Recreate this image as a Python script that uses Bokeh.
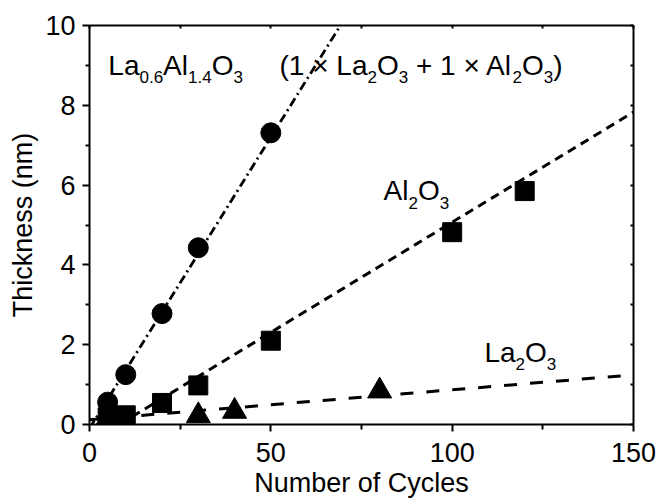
import numpy as np
from bokeh.plotting import figure
from bokeh.models import LinearAxis, Label, FixedTicker, CustomJSTickFormatter, Range1d
from bokeh.embed import file_html
from bokeh.resources import INLINE

# ---------------- data ----------------
lao_cycles = [5, 10, 20, 30, 50]
lao_thickness = [0.56, 1.25, 2.78, 4.43, 7.31]

al_cycles = [5, 10, 20, 30, 50, 100, 120]
al_thickness = [0.18, 0.23, 0.54, 0.98, 2.10, 4.82, 5.85]

la_cycles = [5, 30, 40, 80]
la_thickness = [0.15, 0.22, 0.33, 0.84]

# guide lines (end points)
lao_fit_x = [0, 75]
lao_fit_y = [-0.10, 10.85]
al_fit_x = [8.2, 150]
al_fit_y = [0.0, 7.83]
la_fit_x = [0, 150]
la_fit_y = [0.12, 1.245]

x_major_ticks = [0, 50, 100, 150]
x_minor_ticks = [25, 75, 125]
y_major_ticks = [0, 2, 4, 6, 8, 10]
y_minor_ticks = [1, 3, 5, 7, 9]

FONT = "Liberation Sans"
AXIS_SIZE = 27
MAIN = 28
SUB = 17
SUB_DROP = 12

p = figure(width=659, height=501, x_range=Range1d(0, 150), y_range=Range1d(0, 10),
           output_backend="svg", toolbar_location=None,
           min_border_left=89, min_border_right=26, min_border_top=25, min_border_bottom=77,
           x_axis_label="Number of Cycles", y_axis_label="Thickness (nm)")
p.xgrid.visible = False
p.ygrid.visible = False
p.outline_line_color = None
p.background_fill_color = "white"
p.border_fill_color = "white"

xt = FixedTicker(ticks=x_major_ticks, minor_ticks=x_minor_ticks)
yt = FixedTicker(ticks=y_major_ticks, minor_ticks=y_minor_ticks)

for ax, t in ((p.xaxis[0], xt), (p.yaxis[0], yt)):
    ax.ticker = t
    ax.axis_line_width = 2
    ax.axis_line_color = "black"
    ax.major_tick_line_width = 2
    ax.minor_tick_line_width = 2
    ax.major_tick_in = 0
    ax.major_tick_out = 7
    ax.minor_tick_in = 0
    ax.major_label_text_font = FONT
    ax.major_label_text_font_size = f"{AXIS_SIZE}px"
    ax.major_label_text_color = "black"
    ax.axis_label_text_font = FONT
    ax.axis_label_text_font_size = f"{AXIS_SIZE}px"
    ax.axis_label_text_font_style = "normal"
    ax.axis_label_text_color = "black"

p.xaxis[0].minor_tick_out = 5
p.xaxis[0].major_label_standoff = 11
p.xaxis[0].axis_label_standoff = 3
p.yaxis[0].minor_tick_out = 4
p.yaxis[0].major_label_standoff = 7
p.yaxis[0].axis_label_standoff = 4

for side, t in (("above", xt), ("right", yt)):
    ax = LinearAxis(ticker=t, formatter=CustomJSTickFormatter(code="return ''"),
                    major_tick_in=3, major_tick_out=0, minor_tick_in=3, minor_tick_out=0,
                    axis_line_width=2, major_tick_line_width=2, minor_tick_line_width=2,
                    major_label_standoff=0, major_label_text_font_size="1px")
    p.add_layout(ax, side)

# lines
p.line(lao_fit_x, lao_fit_y, line_color="black", line_width=2.8, line_dash="9 4 2 4")
p.line(al_fit_x, al_fit_y, line_color="black", line_width=3, line_dash="9 6")
p.line(la_fit_x, la_fit_y, line_color="black", line_width=3, line_dash="13 13")

# markers
p.scatter(la_cycles, la_thickness, marker="triangle", size=24, color="black")
p.scatter(al_cycles, al_thickness, marker="square", size=19, color="black")
p.scatter(lao_cycles, lao_thickness, marker="circle", size=20, color="black")

# text with subscripts
NB = "\u00a0"
ARIAL = {'L': 0.556, 'a': 0.556, 'A': 0.667, 'l': 0.222, 'O': 0.778, '.': 0.278,
         '(': 0.333, ')': 0.333, ' ': 0.278, NB: 0.278, '×': 0.584, '+': 0.584}
for d in "0123456789":
    ARIAL[d] = 0.556


def chem(x, y, parts):
    off = 0.0
    for txt, sub in parts:
        size = SUB if sub else MAIN
        p.add_layout(Label(x=x, y=y, x_offset=off, y_offset=-SUB_DROP if sub else 0,
                           text=txt, text_font=FONT, text_font_size=f"{size}px",
                           text_color="black", text_baseline="alphabetic", text_align="left"))
        off += sum(ARIAL[c] for c in txt) * size


chem(5.2, 9.0, [("La", 0), ("0.6", 1), ("Al", 0), ("1.4", 1), ("O", 0), ("3", 1)])
chem(52.4, 9.0, [("(1 × La", 0), ("2", 1), ("O", 0), ("3", 1), (NB + "+ 1 × Al", 0),
                 ("2", 1), ("O", 0), ("3", 1), (")", 0)])
chem(81.1, 5.86, [("Al", 0), ("2", 1), ("O", 0), ("3", 1)])
chem(108.9, 1.81, [("La", 0), ("2", 1), ("O", 0), ("3", 1)])

open("out.html", "w").write(file_html(p, INLINE))
